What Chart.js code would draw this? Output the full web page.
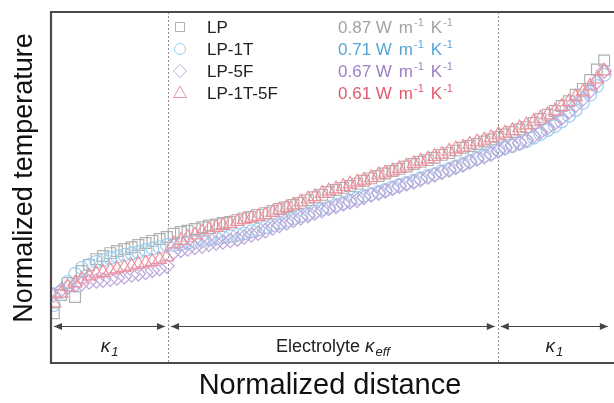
<!DOCTYPE html>
<html>
<head>
<meta charset="utf-8">
<script src="https://cdn.jsdelivr.net/npm/chart.js@4.4.1/dist/chart.umd.min.js"></script>
<style>
html,body{margin:0;padding:0;background:#fff;overflow:hidden;}
#wrap{width:614px;height:403px;position:relative;}
</style>
</head>
<body>
<div id="wrap"><canvas id="c" width="614" height="403"></canvas></div>
<script>
// Normalized distance of each node
const distance = [0.005,0.018,0.030,0.043,0.055,0.068,0.081,0.093,0.106,0.118,0.131,0.144,0.156,0.169,0.181,0.194,0.207,0.219,0.232,0.244,0.257,0.270,0.282,0.295,0.307,0.320,0.333,0.345,0.358,0.370,0.383,0.396,0.408,0.421,0.433,0.446,0.459,0.471,0.484,0.496,0.509,0.522,0.534,0.547,0.559,0.572,0.585,0.597,0.610,0.622,0.635,0.648,0.660,0.673,0.685,0.698,0.711,0.723,0.736,0.748,0.761,0.774,0.786,0.799,0.811,0.824,0.837,0.849,0.862,0.874,0.887,0.900,0.912,0.925,0.937,0.950,0.963,0.975,0.988];

// Normalized temperature per sample
const tLP = [0.142,0.194,0.228,0.188,0.262,0.279,0.296,0.305,0.313,0.319,
  0.325,0.330,0.336,0.342,0.348,0.353,0.359,0.368,0.373,0.377,
  0.382,0.387,0.392,0.395,0.399,0.402,0.407,0.412,0.416,0.422,
  0.427,0.433,0.439,0.444,0.450,0.456,0.464,0.472,0.479,0.487,
  0.493,0.499,0.504,0.511,0.519,0.526,0.533,0.540,0.547,0.553,
  0.560,0.567,0.573,0.578,0.585,0.593,0.598,0.605,0.613,0.618,
  0.624,0.631,0.637,0.644,0.651,0.658,0.665,0.672,0.684,0.695,
  0.707,0.718,0.732,0.746,0.764,0.781,0.806,0.836,0.862];
const tLP1T = [0.165,0.202,0.231,0.254,0.271,0.279,0.288,0.293,0.299,0.303,
  0.308,0.312,0.316,0.322,0.326,0.330,0.336,0.336,0.339,0.342,
  0.345,0.348,0.352,0.355,0.358,0.362,0.365,0.369,0.375,0.380,
  0.387,0.393,0.399,0.405,0.412,0.419,0.425,0.432,0.439,0.444,
  0.450,0.456,0.463,0.470,0.476,0.481,0.487,0.493,0.500,0.507,
  0.513,0.519,0.526,0.533,0.538,0.546,0.553,0.560,0.567,0.575,
  0.584,0.591,0.598,0.607,0.613,0.618,0.625,0.632,0.642,0.652,
  0.664,0.675,0.688,0.704,0.721,0.741,0.764,0.789,0.821];
const tLP5F = [0.194,0.208,0.217,0.222,0.226,0.231,0.234,0.236,0.239,0.242,
  0.246,0.251,0.254,0.258,0.264,0.269,0.276,0.316,0.321,0.325,
  0.329,0.333,0.338,0.342,0.345,0.349,0.353,0.359,0.365,0.370,
  0.377,0.385,0.392,0.399,0.406,0.413,0.420,0.427,0.434,0.440,
  0.446,0.453,0.459,0.464,0.472,0.479,0.484,0.490,0.497,0.504,
  0.510,0.516,0.523,0.530,0.536,0.543,0.550,0.557,0.564,0.573,
  0.581,0.588,0.595,0.604,0.613,0.620,0.627,0.635,0.647,0.658,
  0.671,0.684,0.698,0.715,0.734,0.752,0.775,0.801,0.832];
const tLP1T5F = [0.171,0.199,0.217,0.228,0.239,0.248,0.254,0.258,0.264,0.268,
  0.272,0.276,0.281,0.285,0.289,0.295,0.302,0.339,0.349,0.358,
  0.365,0.373,0.380,0.386,0.392,0.397,0.403,0.409,0.413,0.417,
  0.422,0.429,0.436,0.443,0.450,0.459,0.467,0.474,0.483,0.490,
  0.496,0.503,0.510,0.516,0.521,0.528,0.536,0.541,0.547,0.554,
  0.561,0.568,0.575,0.581,0.588,0.595,0.603,0.610,0.615,0.623,
  0.630,0.635,0.642,0.650,0.655,0.662,0.670,0.678,0.687,0.697,
  0.707,0.718,0.731,0.744,0.758,0.772,0.789,0.809,0.832];

const seriesNames = ['LP', 'LP-1T', 'LP-5F', 'LP-1T-5F'];
const conductivity = ['0.87', '0.71', '0.67', '0.61'];
const boundaries = [0.209, 0.798];          // interfaces (normalized distance)
const sectionEnds = [0, 0.209, 0.798, 1.0];  // sections for the arrows

const FONT = "'Liberation Sans', Arial, Helvetica, sans-serif";
const markerColors = ['#b0b0b0', '#9ccdec', '#bea8da', '#ee929f'];
const textColors = ['#a3a3a3', '#56a7d8', '#9c80c6', '#e2596b'];
const styles = ['rect', 'circle', 'rectRot', 'triangle'];
const radii = [7.6, 6.4, 7.2, 7.8];
const allT = [tLP, tLP1T, tLP5F, tLP1T5F];

const datasets = seriesNames.map((name, k) => ({
  label: name,
  data: distance.map((x, i) => ({x: x, y: allT[k][i]})),
  showLine: false,
  pointStyle: styles[k],
  pointRadius: radii[k],
  pointHoverRadius: radii[k],
  pointBorderWidth: 1.2,
  pointBorderColor: markerColors[k],
  pointBackgroundColor: 'rgba(255,255,255,0)',
  borderColor: markerColors[k],
  backgroundColor: 'rgba(255,255,255,0)',
  order: 3 - k,
  clip: {left: 0, top: 0, right: 10, bottom: 0}
}));

function arrowHead(ctx, x, y, dir) {
  ctx.beginPath();
  ctx.moveTo(x, y);
  ctx.lineTo(x - dir * 8, y - 3.5);
  ctx.lineTo(x - dir * 8, y + 3.5);
  ctx.closePath();
  ctx.fill();
}

const decor = {
  id: 'decor',
  beforeDatasetsDraw(chart) {
    const {ctx, chartArea: a, scales: {x}} = chart;
    ctx.save();
    // dotted interfaces
    ctx.strokeStyle = '#8a8a8a';
    ctx.lineWidth = 1;
    ctx.setLineDash([2, 2]);
    boundaries.forEach(b => {
      const px = Math.round(x.getPixelForValue(b)) + 0.5;
      ctx.beginPath(); ctx.moveTo(px, a.top); ctx.lineTo(px, a.bottom); ctx.stroke();
    });
    ctx.setLineDash([]);
    // section arrows
    const ay = 326.5;
    ctx.strokeStyle = '#444'; ctx.fillStyle = '#444'; ctx.lineWidth = 1;
    for (let s = 0; s < 3; s++) {
      const x0 = x.getPixelForValue(sectionEnds[s]) + 3;
      const x1 = x.getPixelForValue(sectionEnds[s + 1]) - 3;
      ctx.beginPath(); ctx.moveTo(x0, ay); ctx.lineTo(x1, ay); ctx.stroke();
      arrowHead(ctx, x0, ay, -1);
      arrowHead(ctx, x1, ay, 1);
    }
    // section labels
    const ly = 352;
    ctx.fillStyle = '#222';
    const kappa1 = (cx) => {
      ctx.font = 'italic 19px ' + FONT;
      const w1 = ctx.measureText('κ').width;
      ctx.font = 'italic 13px ' + FONT;
      const w2 = ctx.measureText('1').width;
      const sx = cx - (w1 + w2 + 1) / 2;
      ctx.font = 'italic 19px ' + FONT;
      ctx.fillText('κ', sx, ly);
      ctx.font = 'italic 13px ' + FONT;
      ctx.fillText('1', sx + w1 + 1, ly + 4);
    };
    ctx.textBaseline = 'alphabetic';
    ctx.textAlign = 'left';
    kappa1((x.getPixelForValue(sectionEnds[0]) + x.getPixelForValue(sectionEnds[1])) / 2);
    kappa1((x.getPixelForValue(sectionEnds[2]) + x.getPixelForValue(sectionEnds[3])) / 2);
    {
      const cx = (x.getPixelForValue(sectionEnds[1]) + x.getPixelForValue(sectionEnds[2])) / 2;
      ctx.font = '18px ' + FONT;
      const wa = ctx.measureText('Electrolyte ').width;
      ctx.font = 'italic 19px ' + FONT;
      const wb = ctx.measureText('κ').width;
      ctx.font = 'italic 13px ' + FONT;
      const wc = ctx.measureText('eff').width;
      let sx = cx - (wa + wb + wc + 1) / 2;
      ctx.font = '18px ' + FONT; ctx.fillText('Electrolyte ', sx, ly);
      ctx.font = 'italic 19px ' + FONT; ctx.fillText('κ', sx + wa, ly);
      ctx.font = 'italic 13px ' + FONT; ctx.fillText('eff', sx + wa + wb + 1, ly + 4);
    }
    ctx.restore();
  },
  afterDraw(chart) {
    const {ctx, chartArea: a} = chart;
    ctx.save();
    // frame (top, left, bottom)
    ctx.strokeStyle = '#4a4a4a';
    ctx.lineWidth = 2.2;
    ctx.beginPath();
    ctx.moveTo(chart.width + 5, a.top);
    ctx.lineTo(a.left, a.top);
    ctx.lineTo(a.left, a.bottom);
    ctx.lineTo(chart.width + 5, a.bottom);
    ctx.stroke();

    // axis titles
    ctx.fillStyle = '#111';
    ctx.font = '29px ' + FONT;
    ctx.textAlign = 'center';
    ctx.textBaseline = 'middle';
    ctx.fillText('Normalized distance', 330, 386);
    ctx.save();
    ctx.translate(25, 178);
    ctx.rotate(-Math.PI / 2);
    ctx.font = '27px ' + FONT;
    ctx.fillText('Normalized temperature', 0, 0);
    ctx.restore();

    // legend
    const rows = [27, 49, 71, 93];
    const mx = 180;
    ctx.lineWidth = 1;
    seriesNames.forEach((name, k) => {
      const y = rows[k];
      ctx.strokeStyle = markerColors[k];
      ctx.beginPath();
      if (k === 0) { ctx.rect(mx - 4.5, y - 4.5, 9, 9); }
      else if (k === 1) { ctx.arc(mx, y, 5.5, 0, Math.PI * 2); }
      else if (k === 2) { ctx.moveTo(mx, y - 6.5); ctx.lineTo(mx + 6.5, y); ctx.lineTo(mx, y + 6.5); ctx.lineTo(mx - 6.5, y); ctx.closePath(); }
      else { ctx.moveTo(mx, y - 7); ctx.lineTo(mx + 6.5, y + 4.5); ctx.lineTo(mx - 6.5, y + 4.5); ctx.closePath(); }
      ctx.stroke();

      ctx.textAlign = 'left';
      ctx.textBaseline = 'alphabetic';
      ctx.fillStyle = '#222';
      ctx.font = '17px ' + FONT;
      ctx.fillText(name, 207, y + 6);

      ctx.fillStyle = textColors[k];
      let tx = 338;
      const main = conductivity[k] + ' W';
      ctx.fillText(main, tx, y + 6);
      tx += ctx.measureText(main).width + 7;
      ctx.fillText('m', tx, y + 6);
      tx += ctx.measureText('m').width + 1;
      ctx.font = '11px ' + FONT;
      ctx.fillText('-1', tx, y - 1);
      tx += ctx.measureText('-1').width + 7;
      ctx.font = '17px ' + FONT;
      ctx.fillText('K', tx, y + 6);
      tx += ctx.measureText('K').width + 1;
      ctx.font = '11px ' + FONT;
      ctx.fillText('-1', tx, y - 1);
    });
    ctx.restore();
  }
};

new Chart(document.getElementById('c'), {
  type: 'scatter',
  data: {datasets},
  options: {
    responsive: false,
    animation: false,
    events: [],
    layout: {padding: {left: 51, top: 12, right: 0, bottom: 40}},
    plugins: {legend: {display: false}, tooltip: {enabled: false}},
    scales: {
      x: {type: 'linear', min: 0, max: 0.9895, display: false},
      y: {type: 'linear', min: 0, max: 1, display: false}
    }
  },
  plugins: [decor]
});
</script>
</body>
</html>
